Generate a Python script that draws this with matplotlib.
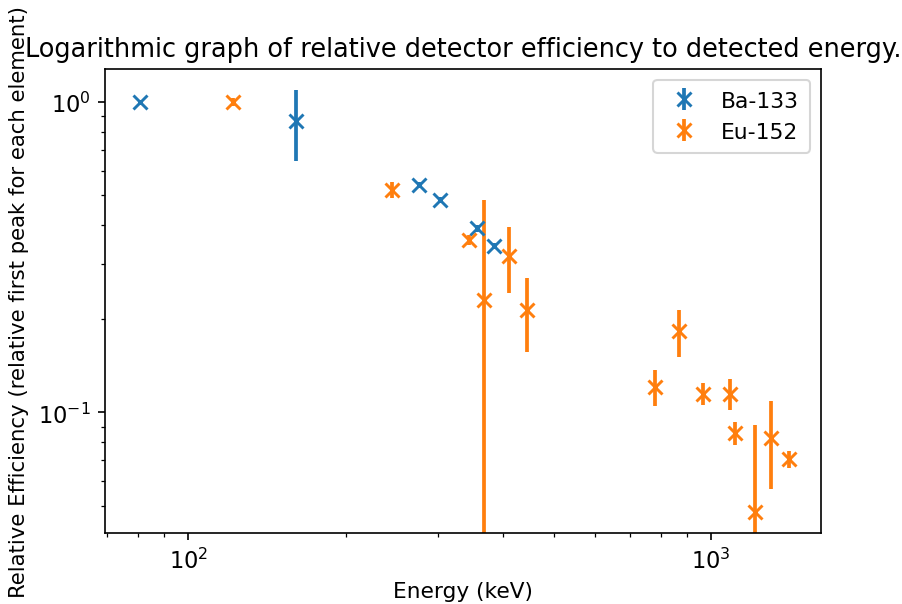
import matplotlib
matplotlib.use("Agg")
import matplotlib.pyplot as plt

# Ba-133 peaks
ba_energy = [81.0, 160.6, 276.4, 302.9, 356.0, 383.8]
ba_eff = [1.0, 0.869, 0.539, 0.484, 0.391, 0.344]
ba_err = [0.01, 0.224, 0.012, 0.008, 0.010, 0.008]

# Eu-152 peaks
eu_energy = [121.8, 244.7, 344.3, 367.8, 411.1, 444.0, 778.9, 867.4,
             964.1, 1085.8, 1112.1, 1212.9, 1299.1, 1408.0]
eu_eff = [1.0, 0.521, 0.359, 0.230, 0.319, 0.2135, 0.121, 0.1823,
          0.115, 0.115, 0.0858, 0.0479, 0.0827, 0.0707]
eu_err = [0.03, 0.032, 0.012, 0.254, 0.077, 0.057, 0.016, 0.032,
          0.009, 0.013, 0.0074, 0.043, 0.026, 0.0045]

fig = plt.figure(figsize=(6.02, 4.033), dpi=150)
ax = fig.add_axes([0.1163, 0.1174, 0.7929, 0.7669])

style = dict(fmt="x", markersize=7, markeredgewidth=1.4, elinewidth=1.8)
ax.errorbar(ba_energy, ba_eff, yerr=ba_err, label="Ba-133", **style)
ax.errorbar(eu_energy, eu_eff, yerr=eu_err, label="Eu-152", **style)

ax.set_xscale("log")
ax.set_yscale("log")
ax.set_xlim(69.3, 1621)
ax.set_ylim(0.0409, 1.274)
ax.tick_params(labelsize=10.8)
ax.set_title("Logarithmic graph of relative detector efficiency to detected energy.",
             fontsize=12.3)
ax.set_xlabel("Energy (keV)", fontsize=10.4)
ax.set_ylabel("Relative Efficiency (relative first peak for each element)", fontsize=10.2)
ax.legend(fontsize=10.5, handlelength=1.8, borderpad=0.5)

fig.savefig("out.png", dpi=150)
